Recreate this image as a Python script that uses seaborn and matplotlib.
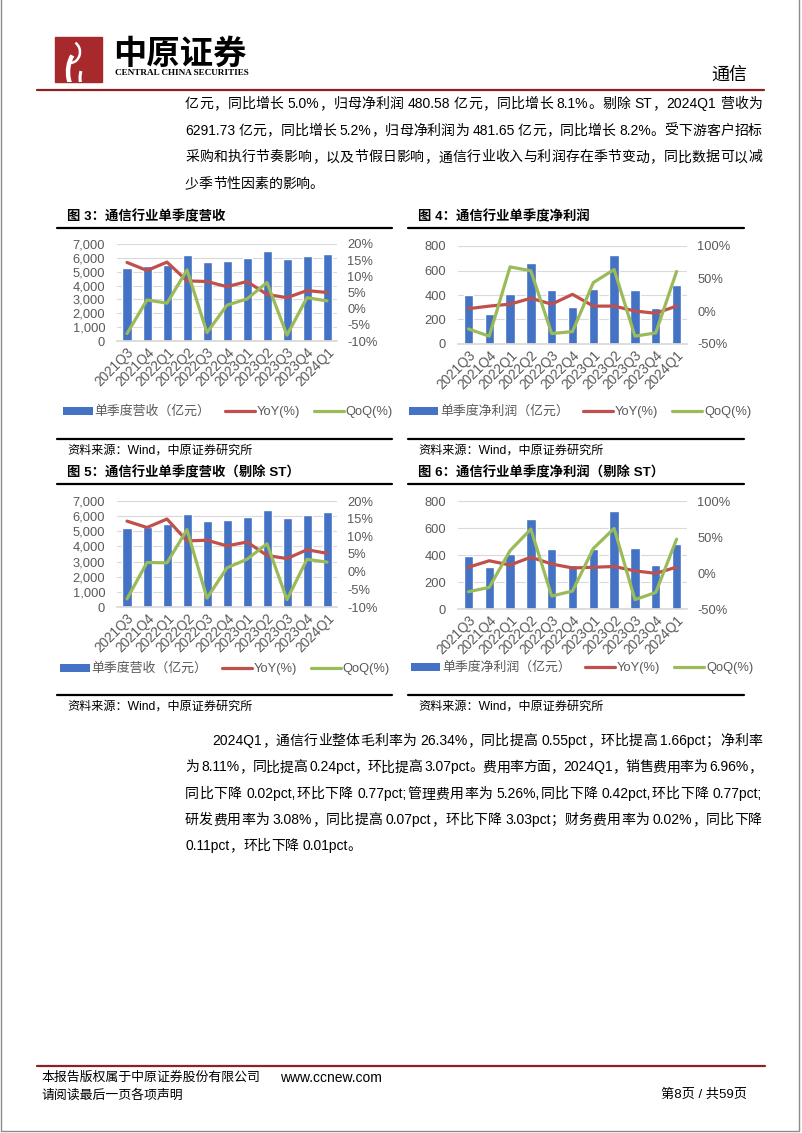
import re
import numpy as np
import pandas as pd
import matplotlib
matplotlib.use('Agg')
import matplotlib.pyplot as plt
import seaborn as sns
from matplotlib.patches import Rectangle, Patch, Arc
from matplotlib.lines import Line2D
from matplotlib.ticker import FuncFormatter

W, H = 802, 1133
BLUE = '#4472C4'
RED = '#C0504D'
GREEN = '#9BBB59'
GRID = '#D9D9D9'
TICK = '#595959'
DARKRED = '#8E1F22'

sns.set_theme(style='white')
plt.rcParams['font.family'] = ['Liberation Sans', 'Noto Sans CJK SC', 'DejaVu Sans']

# ---- data ----
quarters = ['2021Q3', '2021Q4', '2022Q1', '2022Q2', '2022Q3', '2022Q4',
            '2023Q1', '2023Q2', '2023Q3', '2023Q4', '2024Q1']

# 图3 通信行业单季度营收
rev_all = [5270, 5410, 5520, 6180, 5720, 5800, 5990, 6470, 5940, 6140, 6300]
rev_yoy_all = [14.3, 11.8, 14.4, 8.6, 8.4, 6.8, 8.4, 4.4, 3.4, 5.6, 5.0]
rev_qoq_all = [-7.7, 2.7, 1.7, 12.0, -7.4, 1.1, 3.0, 8.1, -8.2, 3.4, 2.4]

# 图4 通信行业单季度净利润
prof_all = [400, 243, 408, 665, 440, 305, 446, 724, 443, 297, 481]
prof_yoy_all = [4, 8, 11, 20, 11, 26, 8, 8, 0.5, -3, 8.1]
prof_qoq_all = [-27, -38, 68, 62, -34, -31, 44, 64, -38, -33, 61]

# 图5 通信行业单季度营收（剔除ST）
rev_exst = [5190, 5300, 5470, 6160, 5700, 5740, 5960, 6420, 5890, 6090, 6292]
rev_yoy_exst = [14.3, 12.5, 14.9, 8.7, 8.9, 7.3, 8.4, 4.6, 3.7, 6.2, 5.2]
rev_qoq_exst = [-7.7, 2.6, 2.5, 11.9, -7.5, 1.1, 3.5, 7.9, -7.9, 3.5, 2.7]

# 图6 通信行业单季度净利润（剔除ST）
prof_exst = [395, 309, 405, 664, 444, 328, 442, 726, 452, 326, 482]
prof_yoy_exst = [8, 17, 11, 22, 12.5, 7, 8, 9, 3, -0.5, 8.2]
prof_qoq_exst = [-26, -20, 31, 61, -32, -25, 34, 62, -37, -27, 47]

para1 = ['亿元，同比增长 5.0%，归母净利润 480.58 亿元，同比增长 8.1%。剔除 ST，2024Q1 营收为',
         '6291.73 亿元，同比增长 5.2%，归母净利润为 481.65 亿元，同比增长 8.2%。受下游客户招标',
         '采购和执行节奏影响，以及节假日影响，通信行业收入与利润存在季节变动，同比数据可以减',
         '少季节性因素的影响。']
para2 = ['2024Q1，通信行业整体毛利率为 26.34%，同比提高 0.55pct，环比提高 1.66pct；净利率',
         '为 8.11%，同比提高 0.24pct，环比提高 3.07pct。费用率方面，2024Q1，销售费用率为 6.96%，',
         '同比下降 0.02pct,环比下降 0.77pct;管理费用率为 5.26%,同比下降 0.42pct,环比下降 0.77pct;',
         '研发费用率为 3.08%，同比提高 0.07pct，环比下降 3.03pct；财务费用率为 0.02%，同比下降',
         '0.11pct，环比下降 0.01pct。']

fig = plt.figure(figsize=(W / 100, H / 100), dpi=100)
fig.patch.set_facecolor('white')
page = fig.add_axes([0, 0, 1, 1])
page.set_xlim(0, W)
page.set_ylim(H, 0)
page.axis('off')
renderer = fig.canvas.get_renderer()


def advance(tok, size, weight='normal'):
    t1 = page.text(0, 0, '中' + tok + '中', fontsize=size, fontweight=weight)
    t2 = page.text(0, 0, '中中', fontsize=size, fontweight=weight)
    w = t1.get_window_extent(renderer).width - t2.get_window_extent(renderer).width
    t1.remove()
    t2.remove()
    return w


def text_line(line, x0, x1, y, size=10, justify=True):
    tokens = re.findall(r'[!-~]+| |[^ ]', line)
    widths = [size * 100 / 72 * 0.25 if t == ' ' else advance(t, size) for t in tokens]
    gap = (x1 - x0 - sum(widths)) / (len(tokens) - 1) if justify else 0
    x = x0
    for tok, w in zip(tokens, widths):
        if tok != ' ':
            page.text(x, y, tok, fontsize=size, va='center', ha='left', color='black')
        x += w + gap


# ---- page frame, header and footer ----
page.plot([1, 1], [0, 1131], color='#8C8C8C', lw=1)
page.plot([799, 799], [0, 1131], color='#8C8C8C', lw=1)
page.plot([1, 799], [1131, 1131], color='#8C8C8C', lw=1)

logo = Rectangle((55, 37), 47, 45, color='#A8292C', zorder=2)
page.add_patch(logo)
for (cx, cy, w, h, a1, a2, lw) in [(96, 72, 56, 62, 120, 215, 3.2),
                                   (100, 78, 40, 44, 115, 200, 2.2),
                                   (70, 52, 20, 22, -60, 90, 1.8)]:
    arc = Arc((cx, cy), w, h, theta1=a1, theta2=a2, color='white', lw=lw, zorder=3)
    page.add_patch(arc)
    arc.set_clip_path(logo)
page.text(113, 54, '中原证券', fontsize=24, fontweight='heavy', va='center', ha='left',
          family=['Noto Sans CJK SC'], color='black')
page.text(115, 73, 'CENTRAL CHINA SECURITIES', fontsize=6.6, fontweight='bold', va='center',
          ha='left', family=['Liberation Serif'], color='black')
page.text(747, 75, '通信', fontsize=13, va='center', ha='right', color='black')
page.plot([37, 764], [90, 90], color=DARKRED, lw=1.6)

page.plot([37, 765], [1066, 1066], color=DARKRED, lw=1.6)
page.text(41, 1078, '本报告版权属于中原证券股份有限公司', fontsize=9.3, va='center', ha='left', color='black')
page.text(280, 1078, 'www.ccnew.com', fontsize=10, va='center', ha='left', color='black')
page.text(41, 1095, '请阅读最后一页各项声明', fontsize=9.3, va='center', ha='left', color='black')
page.text(747, 1095, '第8页 / 共59页', fontsize=9.5, va='center', ha='right', color='black')

# ---- body text ----
for i, line in enumerate(para1):
    text_line(line, 185, 762, 104 + i * 26.7, justify=(i < len(para1) - 1))
for i, line in enumerate(para2):
    x0 = 212 if i == 0 else 185
    text_line(line, x0, 762, 741 + i * 26.3, justify=(i < len(para2) - 1))


# ---- charts ----
def combo_chart(rect, bars, yoy, qoq, bar_max, bar_step, pct_lo, pct_hi, pct_step,
                bar_name, title, title_xy, frame_x, title_line_y, src_line_y, legend_c):
    l, t, r, b = rect
    ax = fig.add_axes([l / W, 1 - b / H, (r - l) / W, (b - t) / H])
    df = pd.DataFrame({'quarter': quarters, 'value': bars})
    sns.barplot(data=df, x='quarter', y='value', color=BLUE, saturation=1, width=0.45, ax=ax, zorder=2)
    ax.set_xlim(-0.5, len(quarters) - 0.5)
    ax.set_ylim(0, bar_max)
    ax.set_yticks(np.arange(0, bar_max + 1, bar_step))
    ax.yaxis.set_major_formatter(FuncFormatter(lambda v, p: f'{v:,.0f}'))
    ax.grid(axis='y', color=GRID, lw=0.8)
    ax.set_axisbelow(True)
    for s in ['top', 'right', 'left']:
        ax.spines[s].set_visible(False)
    ax.spines['bottom'].set_color(GRID)
    ax.set_xlabel('')
    ax.set_ylabel('')
    ax.tick_params(axis='y', length=0, labelsize=9.3, labelcolor=TICK, pad=8.5)
    ax.tick_params(axis='x', length=0, labelsize=9.8, labelcolor=TICK, pad=3)
    for lab in ax.get_xticklabels():
        lab.set_rotation(45)
        lab.set_ha('right')
        lab.set_rotation_mode('anchor')

    ax2 = ax.twinx()
    xs = np.arange(len(quarters))
    sns.lineplot(x=xs, y=yoy, ax=ax2, color=RED, lw=2.3, zorder=3)
    sns.lineplot(x=xs, y=qoq, ax=ax2, color=GREEN, lw=2.3, zorder=4)
    ax2.set_xlim(-0.5, len(quarters) - 0.5)
    ax2.set_ylim(pct_lo, pct_hi)
    ax2.set_yticks(np.arange(pct_lo, pct_hi + 1, pct_step))
    ax2.yaxis.set_major_formatter(FuncFormatter(lambda v, p: f'{v:.0f}%'))
    ax2.tick_params(axis='y', length=0, labelsize=9.3, labelcolor=TICK, pad=7.5)
    ax2.set_ylabel('')
    for s in ax2.spines.values():
        s.set_visible(False)

    handles = [Patch(facecolor=BLUE, edgecolor='none'),
               Line2D([], [], color=RED, lw=2.3),
               Line2D([], [], color=GREEN, lw=2.3)]
    ax.legend(handles, [bar_name, 'YoY(%)', 'QoQ(%)'], loc='center',
              bbox_to_anchor=(legend_c[0] / W, 1 - legend_c[1] / H), bbox_transform=fig.transFigure,
              ncol=3, frameon=False, fontsize=9.3, labelcolor=TICK, handlelength=2.3,
              handleheight=0.6, handletextpad=0.15, columnspacing=1.1)

    page.text(title_xy[0], title_xy[1], title, fontsize=9.6, fontweight='bold', va='center', ha='left',
              color='black')
    page.plot(frame_x, [title_line_y, title_line_y], color='black', lw=1.6)
    page.plot(frame_x, [src_line_y, src_line_y], color='black', lw=1.6)
    page.text(title_xy[0], src_line_y + 12, '资料来源：Wind，中原证券研究所', fontsize=8.7,
              va='center', ha='left', color='black')


combo_chart((117, 244, 337, 341), rev_all, rev_yoy_all, rev_qoq_all, 7000, 1000, -10, 20, 5,
            '单季度营收（亿元）', '图 3：通信行业单季度营收', (67, 217), [57, 392], 228, 439, (228, 412))
combo_chart((458, 246, 687, 344), prof_all, prof_yoy_all, prof_qoq_all, 800, 200, -50, 100, 50,
            '单季度净利润（亿元）', '图 4：通信行业单季度净利润', (418, 217), [408, 744], 228, 439, (580, 412))
combo_chart((117, 501, 337, 607), rev_exst, rev_yoy_exst, rev_qoq_exst, 7000, 1000, -10, 20, 5,
            '单季度营收（亿元）', '图 5：通信行业单季度营收（剔除 ST）', (67, 473), [57, 392], 484, 695, (225, 669))
combo_chart((458, 501, 687, 609), prof_exst, prof_yoy_exst, prof_qoq_exst, 800, 200, -50, 100, 50,
            '单季度净利润（亿元）', '图 6：通信行业单季度净利润（剔除 ST）', (418, 473), [408, 744], 484, 695, (582, 668))

fig.savefig('out.png', dpi=100)
